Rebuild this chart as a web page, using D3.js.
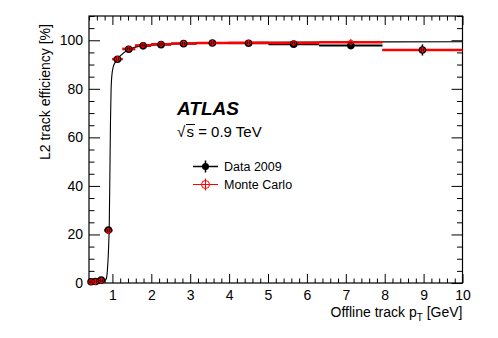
<!DOCTYPE html>
<html>
<head>
<meta charset="utf-8">
<script src="https://cdn.jsdelivr.net/npm/d3@7/dist/d3.min.js"></script>
<style>
  html, body { margin: 0; padding: 0; background: #fff; }
  svg { display: block; font-family: "Liberation Sans", Arial, Helvetica, sans-serif; }
</style>
</head>
<body>
<script>
// ---- data ----
const binEdges = [0.398, 0.501, 0.631, 0.794, 1.0, 1.259, 1.585, 1.995, 2.512, 3.162, 3.981, 5.012, 6.310, 7.943, 10.0];
const binCenters = [0.45, 0.566, 0.713, 0.897, 1.13, 1.42, 1.79, 2.25, 2.83, 3.57, 4.5, 5.66, 7.13, 8.97];
const dataEff = [0.5, 0.6, 1.2, 21.8, 92.2, 96.3, 97.7, 98.2, 98.6, 98.9, 98.8, 98.4, 97.8, 96.0];
const dataErr = [0.3, 0.3, 0.4, 0.8, 0.5, 0.4, 0.4, 0.3, 0.3, 0.3, 0.4, 0.6, 0.9, 2.3];
const mcEff = [0.4, 0.5, 1.0, 21.5, 92.3, 96.5, 97.9, 98.4, 98.7, 98.9, 99.0, 98.9, 99.2, 96.0];
const mcErr = [0.1, 0.1, 0.2, 0.4, 0.2, 0.2, 0.2, 0.1, 0.1, 0.1, 0.1, 0.2, 0.3, 0.6];
const fitX = [0.40, 0.60, 0.75, 0.80, 0.84, 0.87, 0.90, 0.92, 0.935, 0.95, 0.965, 0.98, 1.02, 1.10, 1.20, 1.40, 1.80, 2.25, 2.85, 3.60, 4.50, 6.00, 8.00, 10.0];
const fitY = [0.3, 0.4, 0.6, 0.9, 1.6, 5.0, 14.0, 25.0, 45.0, 66.0, 79.0, 84.5, 89.0, 91.6, 93.6, 96.0, 97.8, 98.4, 98.8, 99.0, 99.1, 99.25, 99.35, 99.4];
const xMajorTicks = [1, 2, 3, 4, 5, 6, 7, 8, 9, 10];
const yMajorTicks = [0, 20, 40, 60, 80, 100];
const legendLabels = ["Data 2009", "Monte Carlo"];

// ---- layout ----
const W = 498, H = 338;
const L = 89, R = 462.5, T = 16, B = 283;

const svg = d3.select("body").append("svg").attr("width", W).attr("height", H);
svg.append("rect").attr("width", W).attr("height", H).attr("fill", "#fff");

const x = d3.scaleLinear().domain([0.398, 10]).range([L, R]);
const y = d3.scaleLinear().domain([0, 110]).range([B, T]);

const xMinor = d3.range(0.4, 10.001, 0.2).map(v => +v.toFixed(1)).filter(v => !xMajorTicks.includes(v));
const yMinor = d3.range(0, 110.001, 5).filter(v => !yMajorTicks.includes(v));

function styleAxis(g) {
  g.select(".domain").remove();
  g.selectAll("line").attr("stroke", "#000").attr("stroke-width", 1);
}

// bottom axis
svg.append("g").attr("transform", `translate(0,${B})`)
  .call(d3.axisBottom(x).tickValues(xMajorTicks).tickSizeInner(-9).tickSizeOuter(0).tickPadding(7).tickFormat(d3.format("d")))
  .call(styleAxis)
  .call(g => g.selectAll("text").attr("font-size", 14).attr("fill", "#000").attr("font-family", "Liberation Sans, Arial, sans-serif"));
svg.append("g").attr("transform", `translate(0,${B})`)
  .call(d3.axisBottom(x).tickValues(xMinor).tickSizeInner(-4.5).tickSizeOuter(0).tickFormat(""))
  .call(styleAxis);
// top axis
svg.append("g").attr("transform", `translate(0,${T})`)
  .call(d3.axisTop(x).tickValues(xMajorTicks).tickSizeInner(-9).tickSizeOuter(0).tickFormat(""))
  .call(styleAxis);
svg.append("g").attr("transform", `translate(0,${T})`)
  .call(d3.axisTop(x).tickValues(xMinor).tickSizeInner(-4.5).tickSizeOuter(0).tickFormat(""))
  .call(styleAxis);
// left axis
svg.append("g").attr("transform", `translate(${L},0)`)
  .call(d3.axisLeft(y).tickValues(yMajorTicks).tickSizeInner(-11).tickSizeOuter(0).tickPadding(6).tickFormat(d3.format("d")))
  .call(styleAxis)
  .call(g => g.selectAll("text").attr("font-size", 14).attr("fill", "#000").attr("font-family", "Liberation Sans, Arial, sans-serif"));
svg.append("g").attr("transform", `translate(${L},0)`)
  .call(d3.axisLeft(y).tickValues(yMinor).tickSizeInner(-5.5).tickSizeOuter(0).tickFormat(""))
  .call(styleAxis);
// right axis
svg.append("g").attr("transform", `translate(${R},0)`)
  .call(d3.axisRight(y).tickValues(yMajorTicks).tickSizeInner(-11).tickSizeOuter(0).tickFormat(""))
  .call(styleAxis);
svg.append("g").attr("transform", `translate(${R},0)`)
  .call(d3.axisRight(y).tickValues(yMinor).tickSizeInner(-5.5).tickSizeOuter(0).tickFormat(""))
  .call(styleAxis);

// frame
svg.append("rect").attr("x", L).attr("y", T).attr("width", R - L).attr("height", B - T)
  .attr("fill", "none").attr("stroke", "#000").attr("stroke-width", 1.2);

// axis titles
const xt = svg.append("text").attr("x", R).attr("y", 317).attr("text-anchor", "end")
  .attr("font-size", 14).attr("fill", "#000");
xt.append("tspan").text("Offline track p");
xt.append("tspan").attr("font-size", 10).attr("dy", 4).text("T");
xt.append("tspan").attr("dy", -4).text(" [GeV]");

svg.append("text").attr("transform", `translate(50,160) rotate(-90)`).attr("text-anchor", "start")
  .attr("font-size", 14).attr("fill", "#000").text("L2 track efficiency [%]");

// ---- data: Data 2009 (black) ----
const plot = svg.append("g");
const idx = d3.range(binCenters.length);

plot.selectAll(".dh").data(idx).join("line")
  .attr("x1", i => x(binEdges[i])).attr("x2", i => x(binEdges[i + 1]))
  .attr("y1", i => y(dataEff[i])).attr("y2", i => y(dataEff[i]))
  .attr("stroke", "#000").attr("stroke-width", 2);
plot.selectAll(".dv").data(idx).join("line")
  .attr("x1", i => x(binCenters[i])).attr("x2", i => x(binCenters[i]))
  .attr("y1", i => y(dataEff[i] - dataErr[i])).attr("y2", i => y(dataEff[i] + dataErr[i]))
  .attr("stroke", "#000").attr("stroke-width", 1.5);

// fit curve
const fitPts = fitX.map((v, i) => [v, fitY[i]]);
plot.append("path").datum(fitPts)
  .attr("d", d3.line().x(d => x(d[0])).y(d => y(d[1])).curve(d3.curveMonotoneX))
  .attr("fill", "none").attr("stroke", "#000").attr("stroke-width", 1.1);

// ---- Monte Carlo (red) bars ----
const red = "#ff0000";
plot.selectAll(".mh").data(idx).join("line")
  .attr("x1", i => x(binEdges[i])).attr("x2", i => x(binEdges[i + 1]))
  .attr("y1", i => y(mcEff[i])).attr("y2", i => y(mcEff[i]))
  .attr("stroke", red).attr("stroke-width", 2.4);

plot.selectAll(".dm").data(idx).join("circle")
  .attr("cx", i => x(binCenters[i])).attr("cy", i => y(dataEff[i])).attr("r", 3.8)
  .attr("fill", "#000");

plot.selectAll(".mv").data(idx).join("line")
  .attr("x1", i => x(binCenters[i])).attr("x2", i => x(binCenters[i]))
  .attr("y1", i => y(mcEff[i]) - 3).attr("y2", i => y(mcEff[i]) + 3)
  .attr("stroke", red).attr("stroke-width", 1);
plot.selectAll(".mm").data(idx).join("circle")
  .attr("cx", i => x(binCenters[i])).attr("cy", i => y(mcEff[i])).attr("r", 2.2)
  .attr("fill", "none").attr("stroke", red).attr("stroke-width", 1);

// ---- ATLAS label ----
svg.append("text").attr("x", 177).attr("y", 115).attr("font-size", 19)
  .attr("font-weight", "bold").attr("font-style", "italic").attr("fill", "#000").text("ATLAS");
const sq = svg.append("g");
sq.append("text").attr("x", 177).attr("y", 137).attr("font-size", 15).attr("fill", "#000").text("\u221A");
sq.append("line").attr("x1", 186).attr("x2", 195).attr("y1", 124.5).attr("y2", 124.5).attr("stroke", "#000").attr("stroke-width", 1);
sq.append("text").attr("x", 186.5).attr("y", 137).attr("font-size", 15).attr("fill", "#000").text("s = 0.9 TeV");

// ---- legend ----
const lx1 = 193, lx2 = 218, lxm = 205.5;
const ly = [166.5, 184.5];
// Data entry
svg.append("line").attr("x1", lx1).attr("x2", lx2).attr("y1", ly[0]).attr("y2", ly[0]).attr("stroke", "#000").attr("stroke-width", 1.5);
svg.append("line").attr("x1", lxm).attr("x2", lxm).attr("y1", ly[0] - 6).attr("y2", ly[0] + 6).attr("stroke", "#000").attr("stroke-width", 1.5);
svg.append("circle").attr("cx", lxm).attr("cy", ly[0]).attr("r", 3.5).attr("fill", "#000");
// MC entry
svg.append("line").attr("x1", lx1).attr("x2", lx2).attr("y1", ly[1]).attr("y2", ly[1]).attr("stroke", red).attr("stroke-width", 1);
svg.append("line").attr("x1", lxm).attr("x2", lxm).attr("y1", ly[1] - 6).attr("y2", ly[1] + 6).attr("stroke", red).attr("stroke-width", 1);
svg.append("circle").attr("cx", lxm).attr("cy", ly[1]).attr("r", 4).attr("fill", "#fff").attr("stroke", red).attr("stroke-width", 1);
svg.append("line").attr("x1", lxm).attr("x2", lxm).attr("y1", ly[1] - 4).attr("y2", ly[1] + 4).attr("stroke", red).attr("stroke-width", 1);
svg.append("line").attr("x1", lxm - 4).attr("x2", lxm + 4).attr("y1", ly[1]).attr("y2", ly[1]).attr("stroke", red).attr("stroke-width", 1);

svg.selectAll(".lt").data(legendLabels).join("text")
  .attr("x", 224).attr("y", (d, i) => ly[i] + 4.5).attr("font-size", 12.5).attr("fill", "#000").text(d => d);
</script>
</body>
</html>
